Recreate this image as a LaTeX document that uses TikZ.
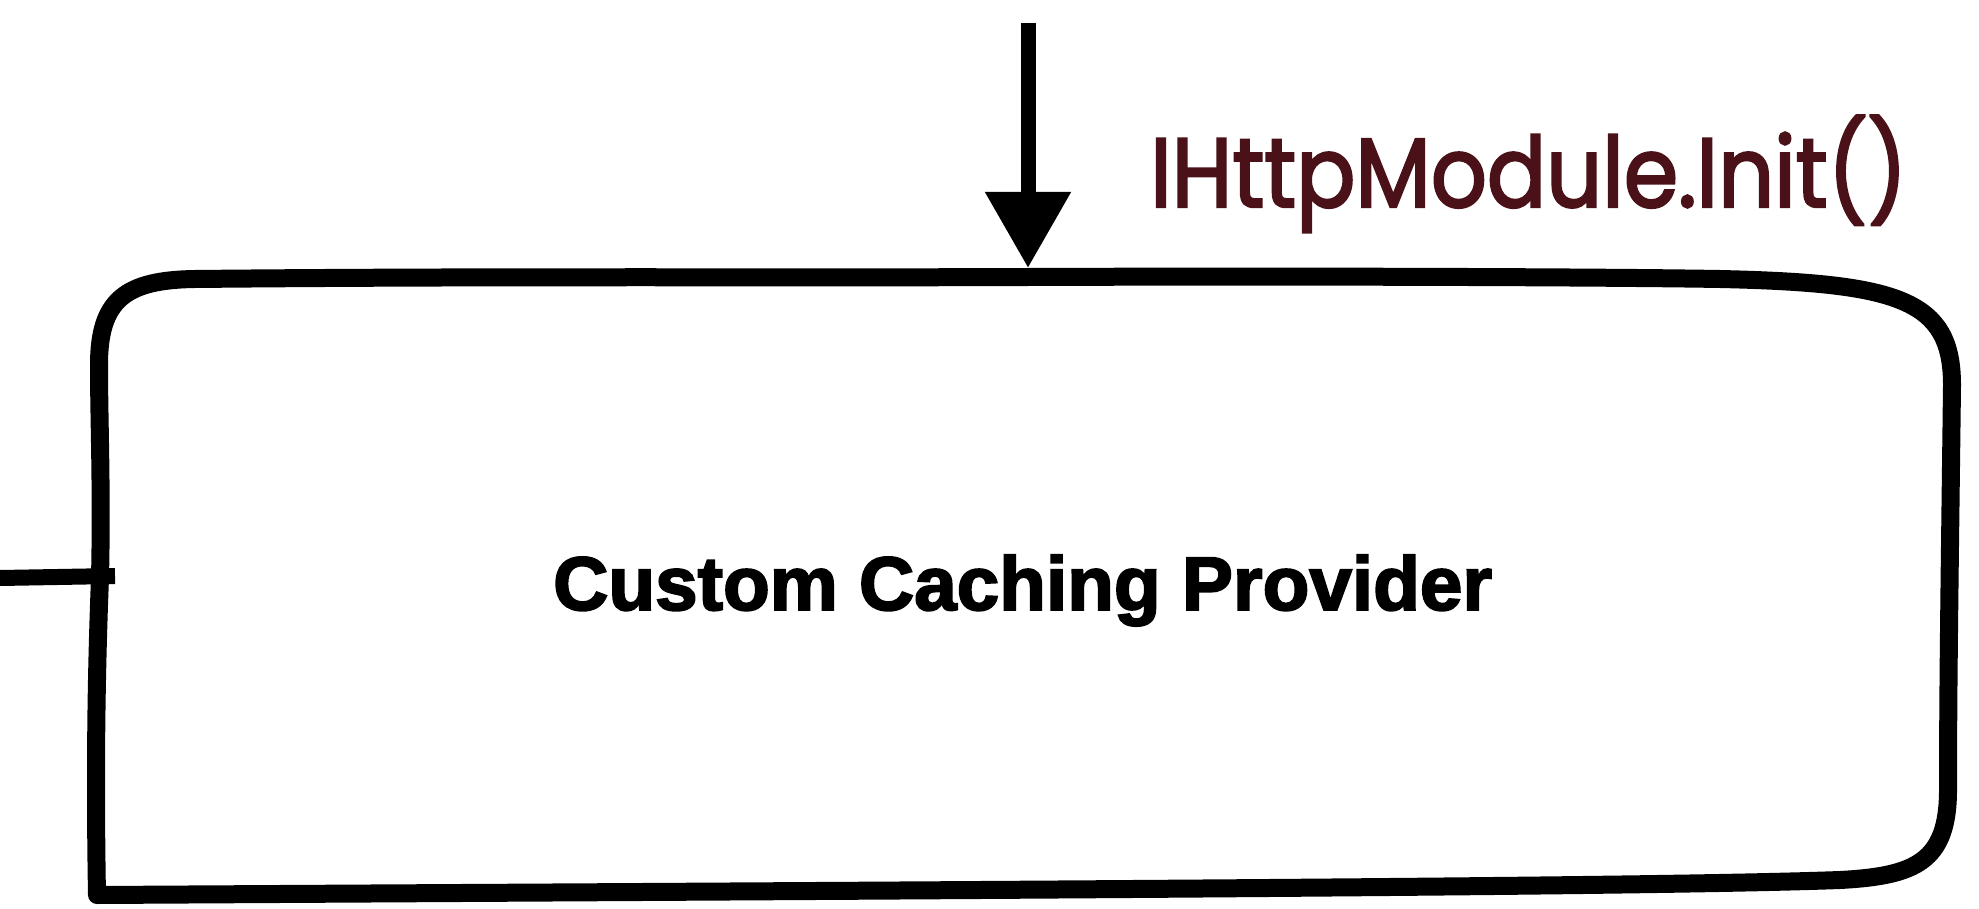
\documentclass[tikz,border=0pt]{standalone}
\usepackage{fontspec}
\usepackage{graphicx}
\setmainfont{Liberation Sans}[BoldFeatures={FakeBold=2.5}]
\newfontfamily\handfont{Poppins}[FakeBold=2.5]
\usetikzlibrary{arrows.meta}
\definecolor{labelred}{HTML}{4A1218}
\tikzset{
  sketchline/.style={line width=18pt, line join=round, line cap=round, black},
  connline/.style={line width=16pt, line cap=butt, black},
  arrowline/.style={line width=15pt, black, -{Triangle[length=76pt,width=82pt]}},
  maintext/.style={inner sep=0pt, anchor=base west, font=\fontsize{76}{90}\selectfont\bfseries},
  handlabel/.style={inner sep=0pt, anchor=base west, text=labelred, font=\fontsize{98}{116}\selectfont\handfont},
}
\begin{document}
\begin{tikzpicture}[x=1pt,y=-1pt]
\useasboundingbox[fill=white] (0,0) rectangle (1979,909);
% box
\draw[sketchline]
  (97,895) .. controls (95,780) and (96,680) .. (100,578)
  .. controls (102,490) and (99,420) .. (99,365)
  .. controls (99,300) and (125,280) .. (195,279)
  .. controls (500,276) and (800,278) .. (1028,277)
  .. controls (1300,276) and (1600,277) .. (1720,279)
  .. controls (1900,283) and (1952,300) .. (1952,385)
  .. controls (1950,550) and (1948,680) .. (1948,790)
  .. controls (1948,862) and (1915,876) .. (1840,880)
  .. controls (1650,887) and (1000,890) .. (97,895) -- cycle;
% text
\node[maintext] (title) at (553,610) {\resizebox{939pt}{\height}{Custom Caching Provider}};
\node[handlabel] (call) at (1150,207) {\resizebox{757pt}{\height}{IHttpModule.Init()}};
% connectors
\coordinate (src) at (1028,23);
\coordinate (boxtop) at (1028,268);
\draw[arrowline] (src) -- (boxtop);
\coordinate (lin) at (0,578);
\coordinate (boxleft) at (115,576);
\draw[connline] (lin) -- (boxleft);
\end{tikzpicture}
\end{document}
